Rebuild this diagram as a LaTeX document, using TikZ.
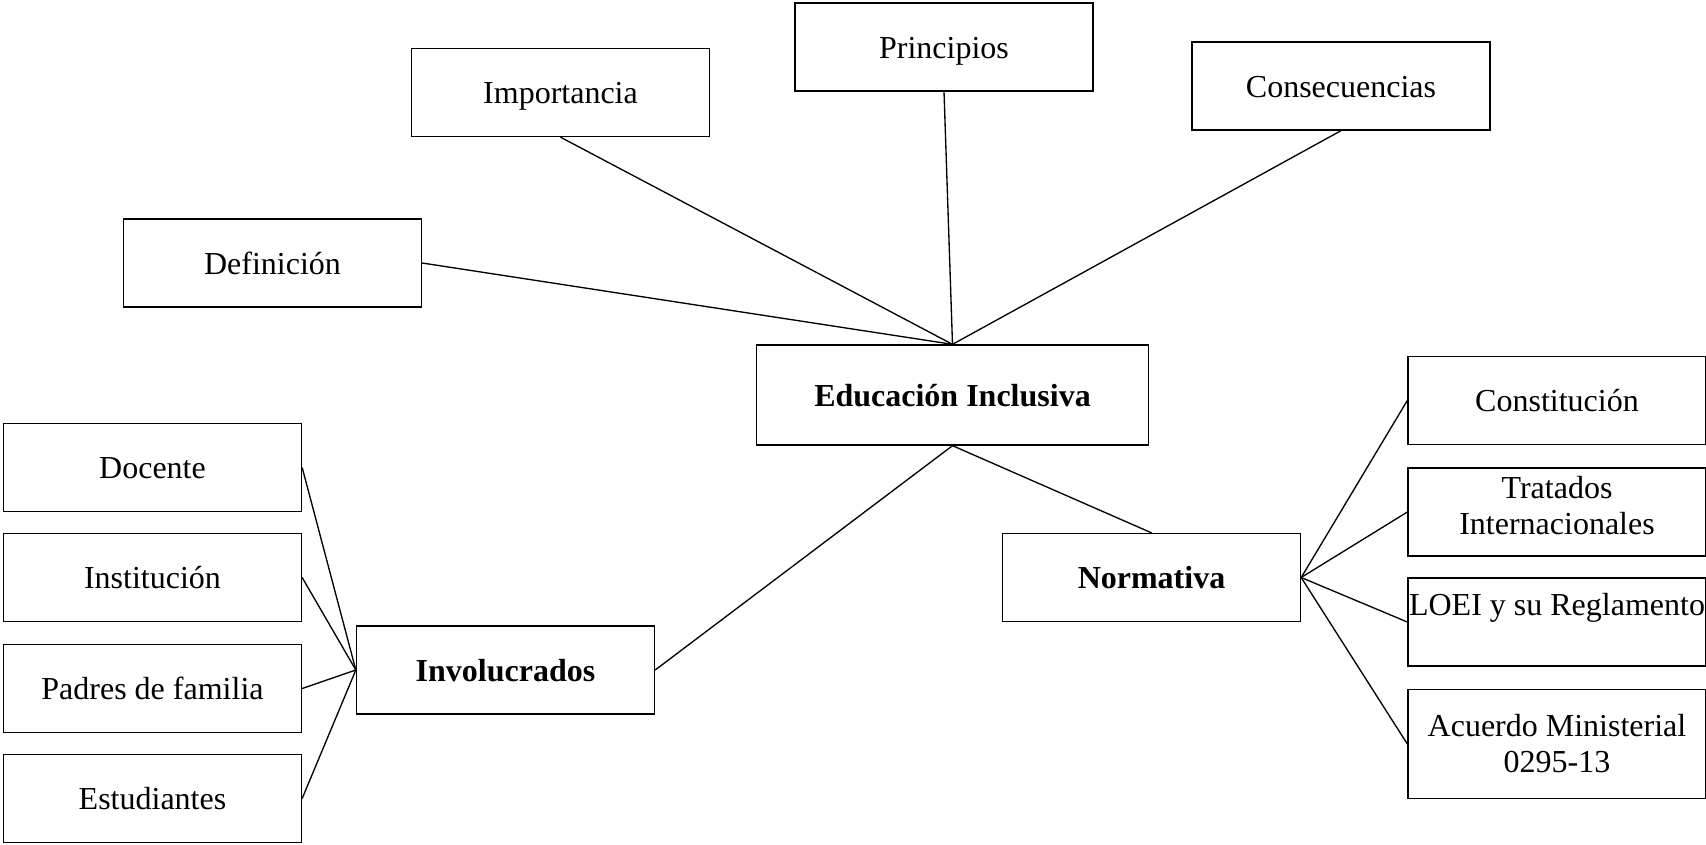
\documentclass[tikz,border=0pt]{standalone}
\usepackage{fontspec}
\setmainfont{Liberation Serif}
\tikzset{box/.style={draw, line width=0.5pt, align=center, inner sep=0pt,
    minimum width=111.75pt, minimum height=33pt, font=\fontsize{12pt}{13.5pt}\selectfont},
    concept/.style={box, text height=9pt, text depth=0.6pt},
    core/.style={concept, font=\fontsize{12pt}{13.5pt}\selectfont\bfseries},
    link/.style={line width=0.5pt},
    }
\begin{document}
\begin{tikzpicture}[x=0.375pt,y=-0.375pt]
	\useasboundingbox (0,0) rectangle (1706,844);
	% centre
	\node[core, minimum width=147pt, minimum height=37.5pt] (eduIncl) at (952.5,395) {Educación Inclusiva};
	% upper branch
	\node[concept] (defin) at (272.5,263) {Definición};
	\node[concept] (importancia) at (560.5,92.5) {Importancia};
	\node[concept] (principios) at (944,47) {Principios};
	\node[concept] (consec) at (1341,86) {Consecuencias};
	% lower branch
	\node[core] (involuc) at (505.5,670) {Involucrados};
	\node[core] (normativa) at (1151.5,577.5) {Normativa};
	\node[concept] (docente) at (152.5,467.5) {Docente};
	\node[concept] (instit) at (152.5,577.5) {Institución};
	\node[concept] (padres) at (152.5,688.5) {Padres de familia};
	\node[concept] (estud) at (152.5,798.5) {Estudiantes};
	\node[concept] (constit) at (1557,400.5) {Constitución};
	\node[box] (tratados) at (1557,512) {Tratados\\Internacionales\\[-8.5pt]\mbox{}};
	\node[box] (loei) at (1557,622) {LOEI y su Reglamento\\\mbox{}};
	\node[box, minimum height=41pt] (acuerdo) at (1557,744) {Acuerdo Ministerial\\0295-13};
	\foreach \n in {importancia,principios,consec}
		\draw[link] (eduIncl.north) -- (\n.south);
	\draw[link] (eduIncl.north) -- (defin.east);
	\draw[link] (eduIncl.south) -- (involuc.east);
	\draw[link] (eduIncl.south) -- (normativa.north);
	\foreach \n in {docente,instit,padres,estud}
		\draw[link] (involuc.west) -- (\n.east);
	\foreach \n in {constit,tratados,loei,acuerdo}
		\draw[link] (normativa.east) -- (\n.west);
\end{tikzpicture}
\end{document}
